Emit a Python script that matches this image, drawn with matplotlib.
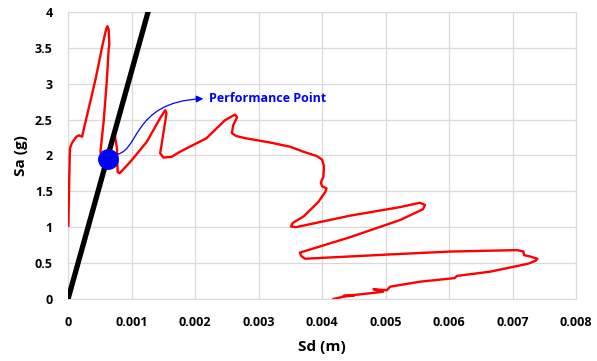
import matplotlib.pyplot as plt
from matplotlib.patches import FancyArrowPatch
from matplotlib.path import Path

plt.rcParams['font.family'] = ['Open Sans', 'DejaVu Sans']

# demand curve (Sd in m, Sa in g)
sd_demand = [0.000005, 0.00002, 0.00003, 0.00006, 0.00009, 0.00013, 0.00017, 0.00022,
             0.00043, 0.00055, 0.00060, 0.00062, 0.00064, 0.00065, 0.00064, 0.00061,
             0.00056, 0.00051, 0.00057, 0.00063, 0.00066, 0.00071, 0.00074, 0.00077,
             0.00078, 0.00081, 0.00098, 0.00124, 0.00145, 0.00153, 0.00155, 0.00148,
             0.00145, 0.00150, 0.00163, 0.00176, 0.00218, 0.00247, 0.00263, 0.00266,
             0.00260, 0.00258, 0.00265, 0.00279, 0.00318, 0.00350, 0.00371, 0.00392,
             0.00400, 0.00403, 0.00402, 0.00398, 0.00400, 0.00407, 0.00405, 0.00394,
             0.00371, 0.00354, 0.00351, 0.00359, 0.00444, 0.00523, 0.00554, 0.00562,
             0.00559, 0.00523, 0.00444, 0.00365, 0.00367, 0.00373, 0.00507, 0.00602,
             0.00707, 0.00717, 0.00718, 0.00728, 0.00739, 0.00736, 0.00724, 0.00665,
             0.00612, 0.00609, 0.00554, 0.00507, 0.00502, 0.00481, 0.00496, 0.00460,
             0.00434, 0.00450, 0.00436, 0.00418]
sa_demand = [1.02, 1.73, 2.10, 2.17, 2.21, 2.26, 2.28, 2.26,
             3.05, 3.57, 3.76, 3.80, 3.75, 3.54, 3.49, 3.03,
             2.47, 2.05, 1.89, 1.99, 2.10, 2.31, 2.26, 2.10,
             1.77, 1.75, 1.91, 2.19, 2.52, 2.63, 2.59, 2.19,
             2.03, 1.97, 1.98, 2.05, 2.24, 2.49, 2.57, 2.53,
             2.42, 2.31, 2.27, 2.24, 2.18, 2.12, 2.05, 1.99,
             1.94, 1.85, 1.70, 1.62, 1.57, 1.54, 1.49, 1.35,
             1.15, 1.06, 1.01, 1.00, 1.16, 1.28, 1.34, 1.31,
             1.25, 1.10, 0.86, 0.645, 0.60, 0.56, 0.62, 0.66,
             0.68, 0.66, 0.61, 0.59, 0.56, 0.53, 0.49, 0.38,
             0.32, 0.29, 0.24, 0.17, 0.12, 0.135, 0.10, 0.063,
             0.042, 0.045, 0.035, 0.0]

# capacity line
sd_capacity = [0.0, 0.00126]
sa_capacity = [0.0, 4.0]

# performance point
pp_sd = 0.000624
pp_sa = 1.95
label_sd = 0.00216
label_sa = 2.79

fig = plt.figure(figsize=(5.97, 3.61), dpi=100)
ax = fig.add_axes([0.114, 0.172, 0.851, 0.795])

ax.plot(sd_demand, sa_demand, color='#ff0000', lw=1.7, solid_joinstyle='round', zorder=3)
ax.plot(sd_capacity, sa_capacity, color='black', lw=3.8, solid_capstyle='round', zorder=4)
ax.plot([pp_sd], [pp_sa], 'o', color='#0000ff', ms=14, zorder=5)

# curved arrow from the point to the label
verts = [(pp_sd + 0.00008, pp_sa + 0.06), (0.00115, 2.0), (0.00095, 2.75), (label_sd - 0.00003, label_sa)]
codes = [Path.MOVETO, Path.CURVE4, Path.CURVE4, Path.CURVE4]
arrow = FancyArrowPatch(path=Path(verts, codes), arrowstyle='-|>', mutation_scale=10,
                        color='#0000ff', lw=0.9, zorder=6)
ax.add_patch(arrow)
ax.text(label_sd + 0.00006, label_sa, 'Performance Point', color='#0000ff',
        fontsize=9, fontweight='bold', va='center', ha='left')

ax.set_xlim(0, 0.008)
ax.set_ylim(0, 4)
ax.set_xticks([0, 0.001, 0.002, 0.003, 0.004, 0.005, 0.006, 0.007, 0.008])
ax.set_xticklabels(['0', '0.001', '0.002', '0.003', '0.004', '0.005', '0.006', '0.007', '0.008'])
ax.set_yticks([0, 0.5, 1, 1.5, 2, 2.5, 3, 3.5, 4])
ax.set_yticklabels(['0', '0.5', '1', '1.5', '2', '2.5', '3', '3.5', '4'])
ax.tick_params(length=0, labelsize=9)
ax.tick_params(axis='x', pad=12)
ax.tick_params(axis='y', pad=11)
for lab in ax.get_xticklabels() + ax.get_yticklabels():
    lab.set_fontweight('bold')
ax.grid(True, color='#d9d9d9', lw=0.9)
ax.set_axisbelow(True)
for s in ax.spines.values():
    s.set_color('#d9d9d9')

ax.set_xlabel('Sd (m)', fontsize=11, fontweight='bold', labelpad=8)
ax.set_ylabel('Sa (g)', fontsize=11, fontweight='bold', labelpad=5)

fig.savefig('out.png', dpi=100)
